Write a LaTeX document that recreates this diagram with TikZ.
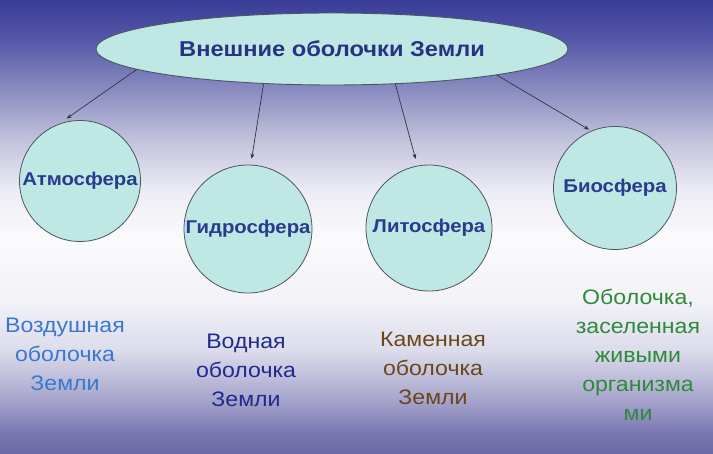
\documentclass[tikz,border=0pt]{standalone}
\usepackage{fontspec}
\setmainfont{Liberation Sans}[FakeStretch=1.1]
\usetikzlibrary{shapes.geometric,arrows.meta}
\definecolor{s0}{HTML}{6A67A6}
\definecolor{s1}{HTML}{7D7AB2}
\definecolor{s2}{HTML}{A6A4CC}
\definecolor{s3}{HTML}{DCDCEC}
\definecolor{s4}{HTML}{F2F2F7}
\definecolor{s5}{HTML}{FBFBFD}
\definecolor{s6}{HTML}{ECECF4}
\definecolor{s7}{HTML}{C2C2DC}
\definecolor{s8}{HTML}{8A8CC0}
\definecolor{s9}{HTML}{5558A8}
\definecolor{s10}{HTML}{383C96}
\definecolor{shellfill}{HTML}{BFE7E3}
\definecolor{shelldraw}{HTML}{4A5660}
\definecolor{titlecol}{HTML}{283282}
\definecolor{labcol}{HTML}{2A3A8E}
\definecolor{aircol}{HTML}{3A78D0}
\definecolor{watercol}{HTML}{1E2A8C}
\definecolor{stonecol}{HTML}{6A4718}
\definecolor{lifecol}{HTML}{2E8A3A}
\definecolor{arrowcol}{HTML}{333340}
\pgfdeclareverticalshading{bgshade}{100bp}{color(0bp)=(s0); color(25bp)=(s0); color(27.65bp)=(s1); color(30.95bp)=(s2); color(36.45bp)=(s3); color(41.95bp)=(s4); color(48.55bp)=(s5); color(54.05bp)=(s6); color(59.6bp)=(s7); color(65.1bp)=(s8); color(70.6bp)=(s9); color(75bp)=(s10); color(100bp)=(s10)}
\begin{document}
\begin{tikzpicture}[x=1pt,y=-1pt,
  shell/.style={circle,draw=shelldraw,line width=0.8pt,fill=shellfill,inner sep=0pt,
    font=\fontsize{18.5}{22}\selectfont\bfseries,text=labcol},
  desc/.style={align=center,font=\fontsize{21}{29}\selectfont},
  conn/.style={draw=arrowcol,line width=0.7pt,-{Stealth[length=5pt,width=4pt]}}]
\shade[shading=bgshade] (0,0) rectangle (713,454);
\useasboundingbox (0,0) rectangle (713,454);
\node[ellipse,draw=shelldraw,line width=0.9pt,fill=shellfill,minimum width=472pt,minimum height=72pt,inner sep=0pt,
  font=\fontsize{21.5}{24}\selectfont\bfseries,text=titlecol] (title) at (332,49) {Внешние оболочки Земли};
\node[shell,minimum size=121pt] (atm) at (80,181) {Атмосфера};
\node[shell,minimum size=128pt] (hyd) at (248,229) {Гидросфера};
\node[shell,minimum size=126pt] (lit) at (429,228) {Литосфера};
\node[shell,minimum size=123pt] (bio) at (615,188) {Биосфера};
\draw[conn] (title.186) -- ([shift={(102:3pt)}]atm.102);
\draw[conn] (title.207) -- ([shift={(87:6pt)}]hyd.87);
\draw[conn] (title.331) -- ([shift={(101:7pt)}]lit.101);
\draw[conn] (title.351) -- ([shift={(114:2pt)}]bio.114);
\node[desc,text=aircol] (air) at (65,354) {Воздушная\\оболочка\\Земли};
\node[desc,text=watercol] (water) at (246,370) {Водная\\оболочка\\Земли};
\node[desc,text=stonecol] (stone) at (433,368) {Каменная\\оболочка\\Земли};
\node[desc,text=lifecol] (life) at (638,355) {Оболочка,\\заселенная\\живыми\\организма\\ми};
\end{tikzpicture}
\end{document}
